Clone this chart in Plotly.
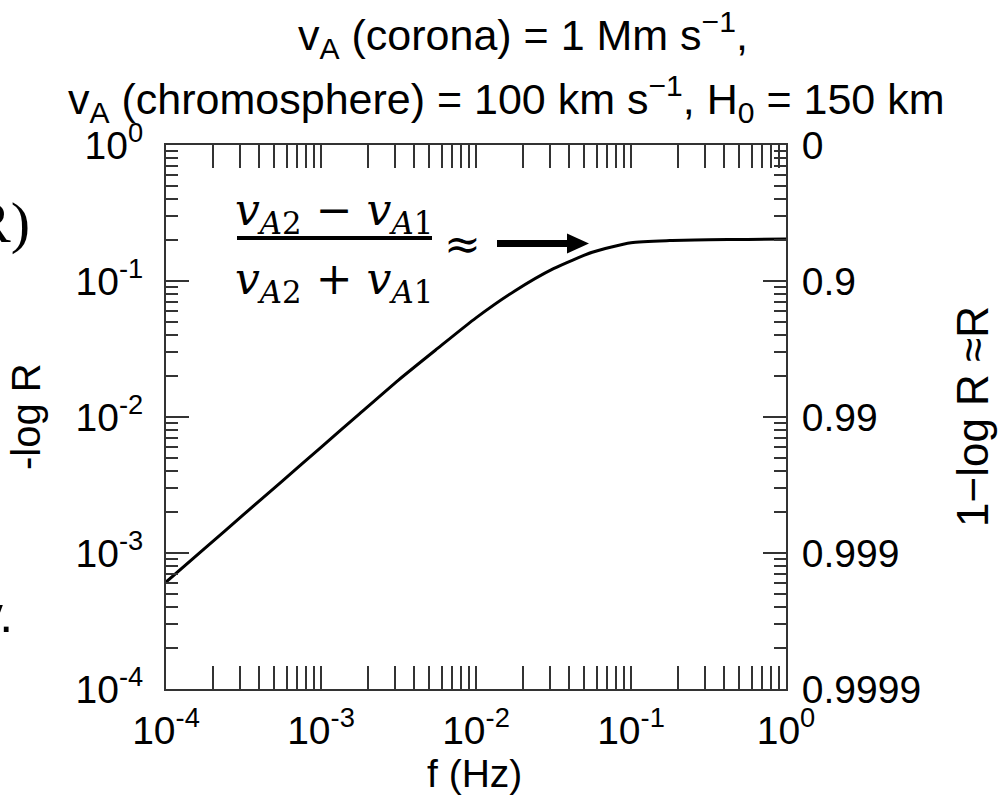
import plotly.graph_objects as go

# Reflection measure vs. wave frequency
freq_hz = [1e-4, 1.778e-4, 3.162e-4, 5.623e-4, 1e-3, 1.778e-3, 3.162e-3,
           5.623e-3, 1e-2, 1.778e-2, 3.162e-2, 5.623e-2, 0.1, 0.1778,
           0.3162, 0.5623, 1.0]
minus_log_r = [6.12e-4, 1.081e-3, 1.914e-3, 3.38e-3, 5.98e-3, 0.01059,
               0.0187, 0.0318, 0.0536, 0.0845, 0.1233, 0.1626, 0.1910,
               0.1982, 0.2009, 0.2023, 0.2037]

decades = [1e-4, 1e-3, 1e-2, 1e-1, 1e0]
x_tick_text = ["10<sup>-4</sup>", "10<sup>-3</sup>", "10<sup>-2</sup>",
               "10<sup>-1</sup>", "10<sup>0</sup>"]
y_tick_text = ["10<sup>-4</sup>", "10<sup>-3</sup>", "10<sup>-2</sup>",
               "10<sup>-1</sup>", "10<sup>0</sup>"]
r_tick_text = ["0.9999", "0.999", "0.99", "0.9", "0"]
# minor ticks at 2..9 within each decade
minor_vals = [m * d for d in decades[:-1] for m in range(2, 10)]

# page geometry (pixels)
WIDTH, HEIGHT = 999, 796
L, R, T, B = 166, 786, 145, 689
PW, PH = R - L, B - T


def px(x):
    return (x - L) / PW


def py(y):
    return (B - y) / PH


SANS = "Liberation Sans, Arial, Helvetica, sans-serif"
SERIF = "DejaVu Serif, serif"
AX = "#333333"

fig = go.Figure()
fig.add_trace(go.Scatter(
    x=freq_hz, y=minus_log_r, mode="lines",
    line=dict(color="black", width=3, shape="spline", smoothing=0.6),
    showlegend=False, hoverinfo="skip"))
# same curve attached to the right-hand axis so that it is drawn
fig.add_trace(go.Scatter(
    x=freq_hz, y=minus_log_r, mode="lines", yaxis="y2",
    line=dict(color="rgba(0,0,0,0)", width=0),
    showlegend=False, hoverinfo="skip"))

minor = dict(ticks="inside", ticklen=12, tickwidth=2, tickcolor=AX,
             tickmode="array", tickvals=minor_vals, showgrid=False)
common = dict(type="log", range=[-4, 0], showgrid=False, zeroline=False,
              showline=True, linecolor=AX, linewidth=2,
              ticks="inside", ticklen=23, tickwidth=2, tickcolor=AX,
              tickmode="array", tickvals=decades,
              tickfont=dict(family=SANS, size=39, color="black"),
              minor=minor)

fig.update_layout(
    width=WIDTH, height=HEIGHT,
    margin=dict(l=L, r=WIDTH - R, t=T, b=HEIGHT - B),
    paper_bgcolor="white", plot_bgcolor="white",
    xaxis=dict(common, ticktext=x_tick_text, mirror="allticks",
               ticklabelstandoff=6),
    yaxis=dict(common, ticktext=y_tick_text, mirror=True,
               ticklabelstandoff=13),
    yaxis2=dict(common, ticktext=r_tick_text, overlaying="y", side="right",
                ticklabelstandoff=6),
)

ann = []
# two-line heading
ann.append(dict(text="v<sub>A</sub> (corona) = 1 Mm s<sup>−1</sup>,",
                x=px(523), y=py(35), font=dict(family=SANS, size=43)))
ann.append(dict(text="v<sub>A</sub> (chromosphere) = 100 km s<sup>−1</sup>, "
                     "H<sub>0</sub> = 150 km",
                x=px(506), y=py(99), font=dict(family=SANS, size=43)))
# axis titles
ann.append(dict(text="f (Hz)", x=px(474), y=py(773),
                font=dict(family=SANS, size=39)))
ann.append(dict(text="-log R", x=px(26), y=py(417), textangle=-90,
                font=dict(family=SANS, size=40)))
ann.append(dict(text="1−log R ≈R", x=px(972), y=py(417), textangle=-90,
                font=dict(family=SANS, size=44)))
# high-frequency limit of the curve
ann.append(dict(text="<i>v</i><sub><i>A</i>2</sub> − <i>v</i><sub><i>A</i>1</sub>",
                x=px(334), y=py(212), font=dict(family=SERIF, size=44)))
ann.append(dict(text="<i>v</i><sub><i>A</i>2</sub> + <i>v</i><sub><i>A</i>1</sub>",
                x=px(334), y=py(281), font=dict(family=SERIF, size=44)))
ann.append(dict(text="≈", x=px(462), y=py(243),
                font=dict(family=SERIF, size=44)))
# slide text cut off at the left edge
ann.append(dict(text="R)", x=px(32), y=py(222), xanchor="right",
                font=dict(family="Liberation Serif, serif", size=58)))
ann.append(dict(text="v.", x=px(15), y=py(615), xanchor="right",
                font=dict(family=SANS, size=50)))

for a in ann:
    a.setdefault("xanchor", "center")
    a.setdefault("yanchor", "middle")
    a["xref"] = "paper"
    a["yref"] = "paper"
    a["showarrow"] = False
    a["font"]["color"] = "black"
fig.update_layout(annotations=ann)

shapes = [
    # fraction bar
    dict(type="line", xref="paper", yref="paper",
         x0=px(237), x1=px(432), y0=py(238), y1=py(238),
         line=dict(color="black", width=4)),
    # arrow shaft and head
    dict(type="line", xref="paper", yref="paper",
         x0=px(497), x1=px(570), y0=py(243.5), y1=py(243.5),
         line=dict(color="black", width=7)),
    dict(type="path", xref="paper", yref="paper",
         path=f"M {px(567)} {py(233.5)} L {px(589)} {py(243.5)} "
              f"L {px(567)} {py(253.5)} Z",
         fillcolor="black", line=dict(color="black", width=0)),
]
fig.update_layout(shapes=shapes)

fig.write_html("out.html")
